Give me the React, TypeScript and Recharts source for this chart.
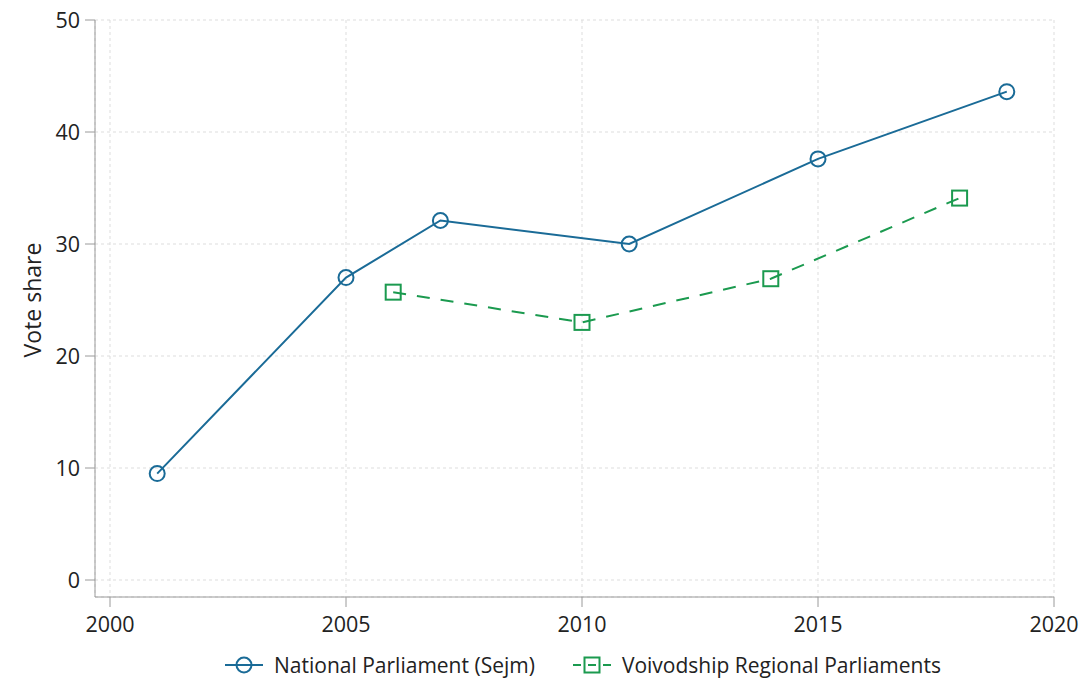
import React from "react";
import {
  LineChart,
  Line,
  XAxis,
  YAxis,
  CartesianGrid,
  Legend,
} from "recharts";

const nationalYears = [2001, 2005, 2007, 2011, 2015, 2019];
const nationalShare = [9.5, 27.0, 32.1, 30.0, 37.6, 43.6];

const regionalYears = [2006, 2010, 2014, 2018];
const regionalShare = [25.7, 23.0, 26.9, 34.1];

const xTicks = [2000, 2005, 2010, 2015, 2020];
const yTicks = [0, 10, 20, 30, 40, 50];

const BLUE = "#1a6b97";
const GREEN = "#1b9a4f";
const AXIS = "#9a9a9a";
const TEXT = "#222222";
const FONT = "'Open Sans', sans-serif";

const national = nationalYears.map((year, i) => ({ year, share: nationalShare[i] }));
const regional = regionalYears.map((year, i) => ({ year, share: regionalShare[i] }));

function HollowCircle(props: any) {
  const { cx, cy } = props;
  if (cx == null || cy == null) return null;
  return <circle cx={cx} cy={cy} r={7.5} fill="none" stroke={BLUE} strokeWidth={2} />;
}

function HollowSquare(props: any) {
  const { cx, cy } = props;
  if (cx == null || cy == null) return null;
  return <rect x={cx - 7.5} y={cy - 7.5} width={15} height={15} fill="none" stroke={GREEN} strokeWidth={2} />;
}

function ChartLegend() {
  const item = (kind: "circle" | "square", label: string) => (
    <div style={{ display: "flex", alignItems: "center", gap: 11 }}>
      <svg width={38} height={20}>
        {kind === "circle" ? (
          <>
            <line x1={0} y1={10} x2={38} y2={10} stroke={BLUE} strokeWidth={2} />
            <circle cx={19} cy={10} r={7.5} fill="none" stroke={BLUE} strokeWidth={2} />
          </>
        ) : (
          <>
            <line x1={0} y1={10} x2={38} y2={10} stroke={GREEN} strokeWidth={2} strokeDasharray="8 22 8" />
            <line x1={15} y1={10} x2={23} y2={10} stroke={GREEN} strokeWidth={2} />
            <rect x={11.5} y={2.5} width={15} height={15} fill="none" stroke={GREEN} strokeWidth={2} />
          </>
        )}
      </svg>
      <span>{label}</span>
    </div>
  );
  return (
    <div
      style={{
        display: "flex",
        justifyContent: "center",
        gap: 38,
        paddingTop: 14,
        paddingLeft: 112,
        fontFamily: FONT,
        fontSize: 21,
        color: TEXT,
      }}
    >
      {item("circle", "National Parliament (Sejm)")}
      {item("square", "Voivodship Regional Parliaments")}
    </div>
  );
}

function YLabel(props: any) {
  const { viewBox } = props;
  const x = 32;
  const y = viewBox.y + (viewBox.height - 17) / 2;
  return (
    <text
      x={x}
      y={y}
      transform={`rotate(-90, ${x}, ${y})`}
      textAnchor="middle"
      dominantBaseline="central"
      fill={TEXT}
      fontSize={23}
      fontFamily={FONT}
    >
      Vote share
    </text>
  );
}

export default function App() {
  return (
    <div style={{ position: "absolute", left: 0, top: 0, background: "#fff" }}>
      <LineChart
        width={1081}
        height={680}
        margin={{ top: 20, right: 27, left: 0, bottom: 0 }}
        style={{ fontFamily: FONT }}
      >
        <CartesianGrid stroke="#dddddd" strokeDasharray="3 3" />
        <XAxis
          dataKey="year"
          type="number"
          domain={[2000, 2020]}
          ticks={xTicks}
          allowDuplicatedCategory={false}
          padding={{ left: 15, right: 0 }}
          height={40}
          tickSize={10}
          tickMargin={10}
          stroke={AXIS}
          tick={{ fill: TEXT, fontSize: 21.5 }}
        />
        <YAxis
          dataKey="share"
          type="number"
          domain={[0, 50]}
          ticks={yTicks}
          padding={{ top: 0, bottom: 17 }}
          width={95}
          tickSize={10}
          tickMargin={5}
          stroke={AXIS}
          tick={{ fill: TEXT, fontSize: 21.5 }}
          label={<YLabel />}
        />
        <Legend verticalAlign="bottom" height={43} content={<ChartLegend />} />
        <Line
          data={national}
          dataKey="share"
          name="National Parliament (Sejm)"
          stroke={BLUE}
          strokeWidth={2}
          dot={<HollowCircle />}
          activeDot={false}
          isAnimationActive={false}
        />
        <Line
          data={regional}
          dataKey="share"
          name="Voivodship Regional Parliaments"
          stroke={GREEN}
          strokeWidth={2}
          strokeDasharray="13 11"
          dot={<HollowSquare />}
          activeDot={false}
          isAnimationActive={false}
        />
      </LineChart>
    </div>
  );
}
